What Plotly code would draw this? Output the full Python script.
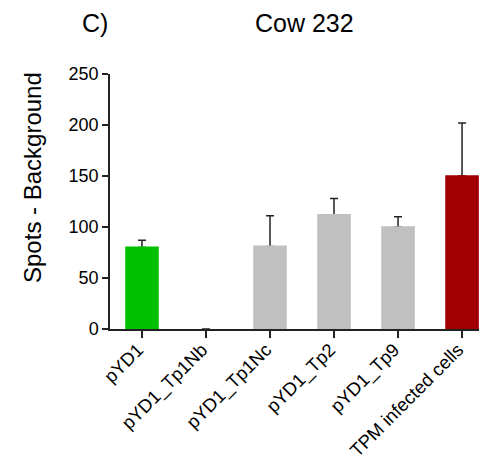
import plotly.graph_objects as go

categories = ["pYD1", "pYD1_Tp1Nb", "pYD1_Tp1Nc", "pYD1_Tp2", "pYD1_Tp9", "TPM infected cells"]
means = [80, 0, 81, 112, 100, 150]
err_plus = [7, None, 30, 16, 10, 52]
err_minus = [0, None, 0, 0, 0, 0]
bar_colors = ["#00C000", "#C0C0C0", "#C0C0C0", "#C0C0C0", "#C0C0C0", "#A00000"]
y_ticks = [0, 50, 100, 150, 200, 250]

FONT = "Liberation Sans, Arial, sans-serif"
AX = "#222222"
xs = list(range(len(categories)))
edge_w = [0 if v == 0 else 1.6 for v in means]

fig = go.Figure()
# bars carrying the (upper) error bars
fig.add_trace(go.Bar(
    x=xs, y=means, width=0.5,
    marker=dict(color=bar_colors, line=dict(width=0)),
    error_y=dict(type="data", symmetric=False, array=err_plus, arrayminus=err_minus,
                 color=AX, thickness=1.5, width=4),
    showlegend=False, hoverinfo="skip",
))
# same bars drawn on top, hiding the lower end of the error bars
fig.add_trace(go.Bar(
    x=xs, y=means, width=0.5,
    marker=dict(color=bar_colors, line=dict(width=edge_w, color=bar_colors)),
    showlegend=False,
))

# page body has an 8px margin, so the figure is sized to fit the window
fig.update_layout(
    barmode="overlay",
    width=479, height=457,
    margin=dict(l=102, r=0, t=66, b=136),
    paper_bgcolor="white", plot_bgcolor="white",
    font=dict(family=FONT, color="black", size=18),
    xaxis=dict(
        range=[-0.5, 5.39], automargin=False,
        tickmode="array", tickvals=xs, ticktext=categories,
        tickangle=-45, tickfont=dict(size=18.5), ticklabelshift=-4, ticklabelstandoff=-6,
        showline=True, linecolor=AX, linewidth=1.5,
        ticks="outside", ticklen=7, tickwidth=1.5, tickcolor=AX,
        showgrid=False, zeroline=False,
    ),
    yaxis=dict(
        range=[0, 250], automargin=False,
        tickmode="array", tickvals=y_ticks,
        tickfont=dict(size=18),
        showline=True, linecolor=AX, linewidth=1.5,
        ticks="outside", ticklen=6, tickwidth=1.5, tickcolor=AX,
        showgrid=False, zeroline=False,
    ),
    annotations=[
        dict(text="Cow 232", xref="paper", yref="paper", x=0.515, y=1.2,
             showarrow=False, font=dict(size=25, family=FONT), xanchor="center", yanchor="middle"),
        dict(text="C)", xref="paper", yref="paper", x=-0.04, y=1.2,
             showarrow=False, font=dict(size=25, family=FONT), xanchor="center", yanchor="middle"),
        dict(text="Spots - Background", xref="paper", yref="paper", x=-0.207, y=0.596,
             textangle=-90, showarrow=False, font=dict(size=24, family=FONT),
             xanchor="center", yanchor="middle"),
    ],
)

fig.write_html("out.html")
